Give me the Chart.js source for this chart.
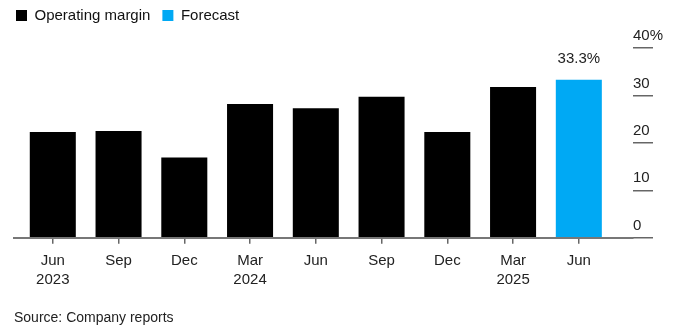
<!DOCTYPE html>
<html><head><meta charset="utf-8">
<script src="https://cdn.jsdelivr.net/npm/chart.js@4/dist/chart.umd.min.js"></script>
<style>html,body{margin:0;padding:0;background:#fff;}#wrap{width:680px;height:329px;}</style>
</head><body><div id="wrap"><canvas id="c" width="680" height="329"></canvas></div>
<script>
// ---- data ----
const categories = [['Jun','2023'],['Sep'],['Dec'],['Mar','2024'],['Jun'],['Sep'],['Dec'],['Mar','2025'],['Jun']];
const marginValues = [22.3, 22.5, 16.9, 28.2, 27.3, 29.7, 22.3, 31.8, null];
const forecastValues = [null, null, null, null, null, null, null, null, 33.3];
const yTicks = [0, 10, 20, 30, 40];
const seriesNames = ['Operating margin', 'Forecast'];
const sourceText = 'Source: Company reports';

const toPoints = arr => arr.map((v, i) => v == null ? null : {x: i, y: v}).filter(Boolean);

Chart.defaults.font.family = "'Liberation Sans', Arial, sans-serif";
Chart.defaults.color = '#222';

const layoutTweak = {
  id: 'layoutTweak',
  afterLayout(chart) { chart.legend.left = 4; chart.legend.top = -4; }
};
const valueLabels = {
  id: 'valueLabels',
  afterDatasetsDraw(chart) {
    const ctx = chart.ctx;
    const ds = chart.data.datasets[1];
    const meta = chart.getDatasetMeta(1);
    ctx.save();
    ctx.font = "15px 'Liberation Sans', Arial, sans-serif";
    ctx.fillStyle = '#222';
    ctx.textAlign = 'center';
    ctx.textBaseline = 'middle';
    meta.data.forEach((bar, i) => {
      ctx.fillText(ds.data[i].y.toFixed(1) + '%', bar.x, bar.y - 21);
    });
    ctx.restore();
  }
};

new Chart(document.getElementById('c'), {
  type: 'bar',
  data: {
    datasets: [
      {label: seriesNames[0], data: toPoints(marginValues), backgroundColor: '#000000', borderWidth: 0},
      {label: seriesNames[1], data: toPoints(forecastValues), backgroundColor: '#00a9f4', borderWidth: 0}
    ]
  },
  options: {
    responsive: false,
    animation: false,
    devicePixelRatio: 1,
    events: [],
    grouped: false,
    barPercentage: 0.7,
    categoryPercentage: 1,
    layout: {padding: {top: 11, left: 14, right: 0, bottom: 0}},
    plugins: {
      tooltip: {enabled: false},
      legend: {
        position: 'top', align: 'start',
        labels: {boxWidth: 11, boxHeight: 11, padding: 12, color: '#111', font: {size: 15}}
      },
      subtitle: {
        display: true, text: sourceText, position: 'bottom', align: 'start',
        color: '#222', font: {size: 14, weight: 'normal', lineHeight: 1.2},
        padding: {top: 13, bottom: 2}
      }
    },
    scales: {
      x: {
        type: 'linear', min: -0.59, max: 8.824, offset: false,
        afterBuildTicks: s => { s.ticks = categories.map((_, i) => ({value: i})); },
        ticks: {
          callback: v => categories[v], autoSkip: false, maxRotation: 0, padding: 8,
          color: '#222', font: {size: 15, lineHeight: 1.25}
        },
        grid: {offset: false, drawOnChartArea: false, drawTicks: true, tickLength: 6, tickColor: '#666', lineWidth: 1.5},
        border: {display: true, color: '#777', width: 2}
      },
      y: {
        position: 'right', min: 0, max: 40,
        afterBuildTicks: s => { s.ticks = yTicks.map(v => ({value: v})); },
        afterFit: s => { s.width = 47; },
        ticks: {
          callback: v => v === 40 ? '40%' : String(v),
          crossAlign: 'near', padding: -20, labelOffset: -12,
          color: '#222', font: {size: 15}
        },
        grid: {drawOnChartArea: false, drawTicks: true, tickLength: 20, tickColor: '#666', lineWidth: 1.5},
        border: {display: false}
      }
    }
  },
  plugins: [layoutTweak, valueLabels]
});
</script>
</body></html>
